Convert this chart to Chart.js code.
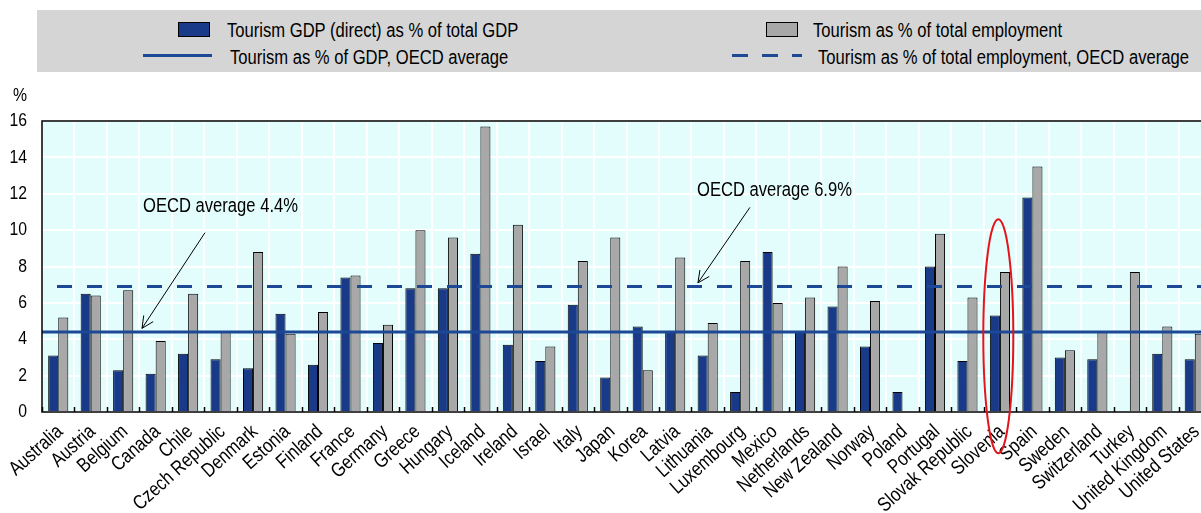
<!DOCTYPE html>
<html>
<head>
<meta charset="utf-8">
<script src="https://cdn.jsdelivr.net/npm/chart.js@4/dist/chart.umd.min.js"></script>
<style>
  body { margin: 0; background: #fff; overflow: hidden; }
  #wrap { position: relative; width: 1201px; height: 513px; overflow: hidden; }
  #chart { position: absolute; left: 0; top: 0; }
  #legend { position: absolute; left: 37px; top: 10px; width: 1200px; height: 62px; background: #d5d5d5; }
  .lg { position: absolute; font-family: 'Liberation Sans', Arial, sans-serif; font-size: 20px; line-height: 24px;
        color: #000; white-space: nowrap; transform-origin: 0 50%; }
</style>
</head>
<body>
<div id="wrap">
  <canvas id="chart" width="1211" height="513"></canvas>
  <div id="legend"></div>
</div>
<script>
// values
var countries = ['Australia', 'Austria', 'Belgium', 'Canada', 'Chile', 'Czech Republic', 'Denmark', 'Estonia',
    'Finland', 'France', 'Germany', 'Greece', 'Hungary', 'Iceland', 'Ireland', 'Israel', 'Italy', 'Japan',
    'Korea', 'Latvia', 'Lithuania', 'Luxembourg', 'Mexico', 'Netherlands', 'New Zealand', 'Norway', 'Poland',
    'Portugal', 'Slovak Republic', 'Slovenia', 'Spain', 'Sweden', 'Switzerland', 'Turkey', 'United Kingdom',
    'United States'];

var gdpShare = [3.1, 6.5, 2.3, 2.1, 3.2, 2.9, 2.4, 5.4, 2.6, 7.4, 3.8, 6.8, 6.8, 8.7, 3.7, 2.8, 5.9, 1.9,
    4.7, 4.4, 3.1, 1.1, 8.8, 4.4, 5.8, 3.6, 1.1, 8.0, 2.8, 5.3, 11.8, 3.0, 2.9, null, 3.2, 2.9];

var empShare = [5.2, 6.4, 6.7, 3.9, 6.5, 4.4, 8.8, 4.3, 5.5, 7.5, 4.8, 10.0, 9.6, 15.7, 10.3, 3.6, 8.3, 9.6,
    2.3, 8.5, 4.9, 8.3, 6.0, 6.3, 8.0, 6.1, null, 9.8, 6.3, 7.7, 13.5, 3.4, 4.4, 7.7, 4.7, 4.3];

var gdpAverage = 4.4;
var empAverage = 6.9;
var yTickValues = [0, 2, 4, 6, 8, 10, 12, 14, 16];

var seriesNames = ['Tourism GDP (direct) as % of total GDP', 'Tourism as % of total employment',
    'Tourism as % of GDP, OECD average', 'Tourism as % of total employment, OECD average'];

// no narrow font installed, so text is squeezed horizontally instead
var FONT = "'Liberation Sans', Arial, sans-serif";
var SQUEEZE = 0.83;
var BLUE = '#183a88';
var GREY = '#a8a8a8';
var LINE_BLUE = '#1d4896';

// legend is plain html, the original has a 2x2 grey box
var legend = document.getElementById('legend');
function addLegend(html, left, top, style) {
    var el = document.createElement('div');
    el.className = 'lg';
    el.style.left = (left - 37) + 'px';
    el.style.top = (top - 10) + 'px';
    if (style) el.style.cssText += style;
    else el.style.transform = 'scaleX(' + SQUEEZE + ')';
    el.innerHTML = html;
    legend.appendChild(el);
}
addLegend('', 178, 22, 'width:32px;height:15px;box-sizing:border-box;background:' + BLUE + ';border:1px solid #000;');
addLegend(seriesNames[0], 227, 18);
addLegend('', 766, 22, 'width:32px;height:15px;box-sizing:border-box;background:' + GREY + ';border:1px solid #000;');
addLegend(seriesNames[1], 813, 18);
addLegend('', 143, 54, 'width:69px;height:3px;background:' + LINE_BLUE + ';');
addLegend(seriesNames[2], 230, 45);
addLegend('', 732, 54, 'width:70px;height:3px;background:repeating-linear-gradient(90deg,' + LINE_BLUE + ' 0 16px, transparent 16px 30px);');
addLegend(seriesNames[3], 818, 45);

function arrow(ctx, x1, y1, x2, y2) {
    ctx.beginPath();
    ctx.moveTo(x1, y1);
    ctx.lineTo(x2, y2);
    var a = Math.atan2(y2 - y1, x2 - x1);
    var L = 13;
    ctx.moveTo(x2 - L * Math.cos(a - 0.45), y2 - L * Math.sin(a - 0.45));
    ctx.lineTo(x2, y2);
    ctx.lineTo(x2 - L * Math.cos(a + 0.45), y2 - L * Math.sin(a + 0.45));
    ctx.stroke();
}

// squeezed text, optionally rotated
function squeezedText(ctx, text, x, y, angle) {
    ctx.save();
    ctx.translate(x, y);
    if (angle) ctx.rotate(angle);
    ctx.scale(SQUEEZE, 1);
    ctx.fillText(text, 0, 0);
    ctx.restore();
}

var decor = {
    id: 'decor',
    beforeDraw(chart) {
        var a = chart.chartArea, ctx = chart.ctx;
        ctx.save();
        ctx.fillStyle = '#e3fdfd';
        ctx.fillRect(a.left, a.top, a.right - a.left, a.bottom - a.top);
        ctx.restore();
    },
    afterDatasetsDraw(chart) {
        var a = chart.chartArea, ctx = chart.ctx;
        var xs = chart.scales.x, ys = chart.scales.y;
        var xAt = function (c) { return xs.getPixelForValue(c); };
        ctx.save();

        // OECD average lines
        ctx.strokeStyle = LINE_BLUE;
        ctx.lineWidth = 3;
        var yg = ys.getPixelForValue(gdpAverage);
        ctx.beginPath(); ctx.moveTo(a.left, yg); ctx.lineTo(a.right, yg); ctx.stroke();
        var ye = ys.getPixelForValue(empAverage);
        ctx.setLineDash([15, 15]);
        ctx.lineDashOffset = 15;
        ctx.beginPath(); ctx.moveTo(a.left, ye); ctx.lineTo(a.right, ye); ctx.stroke();
        ctx.setLineDash([]);

        // frame + small inner ticks on the bottom axis
        ctx.strokeStyle = '#000';
        ctx.lineWidth = 1.5;
        ctx.strokeRect(a.left, a.top, a.right - a.left, a.bottom - a.top);
        for (var i = 0; i <= countries.length; i++) {
            var tx = Math.round(xAt(i - 0.5)) + 0.5;
            ctx.beginPath(); ctx.moveTo(tx, a.bottom); ctx.lineTo(tx, a.bottom - 5); ctx.stroke();
        }

        ctx.fillStyle = '#000';
        ctx.textBaseline = 'middle';

        // axis labels
        ctx.font = '19px ' + FONT;
        ctx.textAlign = 'right';
        yTickValues.forEach(function (v) {
            squeezedText(ctx, String(v), 27, ys.getPixelForValue(v));
        });
        ctx.textAlign = 'center';
        squeezedText(ctx, '%', 20, a.top - 25);

        ctx.font = '20px ' + FONT;
        ctx.textAlign = 'right';
        countries.forEach(function (name, i) {
            squeezedText(ctx, name, xAt(i) + 2, a.bottom + 17, -42 * Math.PI / 180);
        });

        // annotations
        ctx.textAlign = 'left';
        squeezedText(ctx, 'OECD average 4.4%', xAt(2.61), ys.getPixelForValue(11.3));
        squeezedText(ctx, 'OECD average 6.9%', xAt(19.67), ys.getPixelForValue(12.2));
        ctx.lineWidth = 1;
        arrow(ctx, xAt(4.52), ys.getPixelForValue(9.86), xAt(2.58), ys.getPixelForValue(4.6));
        arrow(ctx, xAt(21.3), ys.getPixelForValue(11.25), xAt(19.7), ys.getPixelForValue(7.1));

        // red highlight around Slovenia
        ctx.strokeStyle = '#e5141c';
        ctx.lineWidth = 2;
        ctx.beginPath();
        ctx.ellipse(xAt(28.95), ys.getPixelForValue(4.16), 15, 117, 0, 0, Math.PI * 2);
        ctx.stroke();
        ctx.restore();
    }
};

Chart.defaults.font.family = FONT;
Chart.defaults.color = '#000';

var chart = new Chart(document.getElementById('chart'), {
    type: 'bar',
    data: {
        labels: countries,
        datasets: [
            {
                label: seriesNames[0],
                data: gdpShare,
                backgroundColor: BLUE,
                borderColor: '#000',
                borderWidth: 1,
                categoryPercentage: 0.62,
                barPercentage: 1
            },
            {
                label: seriesNames[1],
                data: empShare,
                backgroundColor: GREY,
                borderColor: '#000',
                borderWidth: 1,
                categoryPercentage: 0.62,
                barPercentage: 1
            }
        ]
    },
    options: {
        responsive: false,
        animation: false,
        layout: { padding: { top: 121, left: 0, right: 0, bottom: 0 } },
        plugins: { legend: { display: false }, tooltip: { enabled: false } },
        scales: {
            x: {
                grid: { color: '#ffffff', lineWidth: 2, drawTicks: false, offset: true },
                border: { display: false },
                ticks: { display: false },
                afterFit: function (s) { s.height = 101; }
            },
            y: {
                min: 0,
                max: 16,
                afterBuildTicks: function (s) { s.ticks = yTickValues.map(v => ({ value: v })); },
                grid: { color: '#ffffff', lineWidth: 2, drawTicks: false },
                border: { display: false },
                ticks: { display: false },
                afterFit: function (s) { s.width = 42; }
            }
        }
    },
    plugins: [decor]
});
</script>
</body>
</html>
